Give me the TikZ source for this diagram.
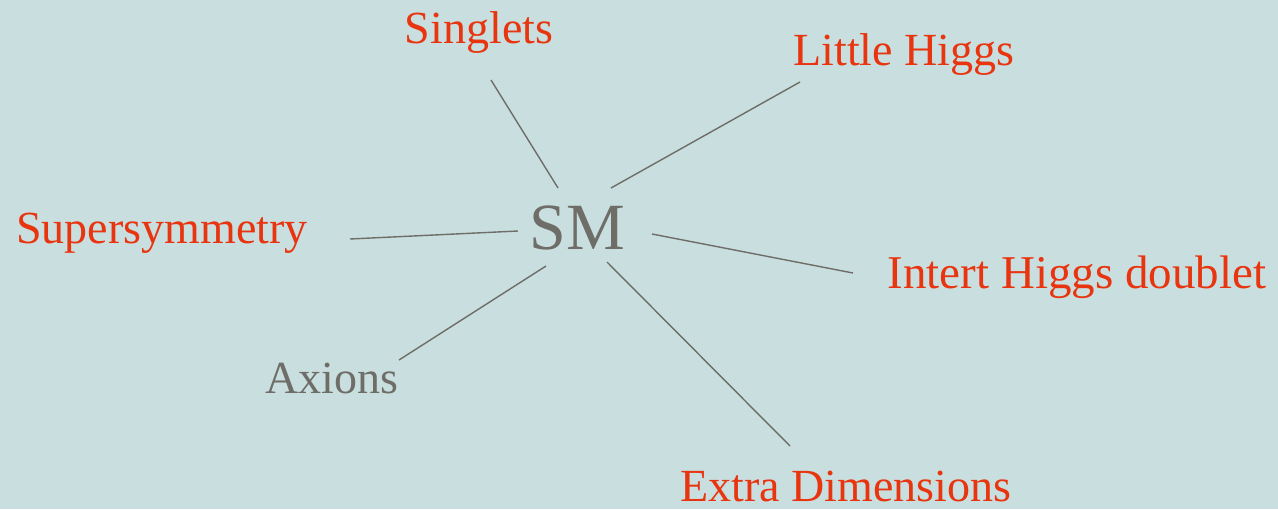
\documentclass[tikz,border=0pt]{standalone}
\usepackage{fontspec}
\setmainfont{Liberation Serif}
\definecolor{bg}{HTML}{C9DEDE}
\definecolor{lab}{HTML}{E8350F}
\definecolor{gr}{HTML}{6E6D68}
\begin{document}
\begin{tikzpicture}[x=0.5pt,y=-0.5pt,
  redlabel/.style={text=lab,font=\fontsize{23}{27}\selectfont,anchor=base,inner sep=0pt},
  graylabel/.style={text=gr,font=\fontsize{23}{27}\selectfont,anchor=base,inner sep=0pt},
  link/.style={draw=gr,line width=0.7pt}]
\fill[bg] (0,0) rectangle (1278,509);
\useasboundingbox (0,0) rectangle (1278,509);
\node[graylabel,font=\fontsize{33}{38}\selectfont] (sm) at (577,249) {SM};
\node[redlabel] (sing) at (479,43) {Singlets};
\node[redlabel] (lh) at (904,65) {Little Higgs};
\node[redlabel] (susy) at (162,243) {Supersymmetry};
\node[redlabel,font=\fontsize{23.5}{27}\selectfont] (ihd) at (1077,288) {Intert Higgs doublet};
\node[graylabel] (ax) at (332,393) {Axions};
\node[redlabel] (ed) at (846,501) {Extra Dimensions};
\coordinate (sing1) at (491,80);  \coordinate (sing2) at (558,188);
\coordinate (lh1) at (800,82);    \coordinate (lh2) at (611,188);
\coordinate (susy1) at (350,239); \coordinate (susy2) at (518,231);
\coordinate (ihd1) at (853,273);  \coordinate (ihd2) at (652,234);
\coordinate (ax1) at (399,360);   \coordinate (ax2) at (546,266);
\coordinate (ed1) at (790,446);   \coordinate (ed2) at (607,262);
\draw[link] (sing1) -- (sing2);
\draw[link] (lh1) -- (lh2);
\draw[link] (susy1) -- (susy2);
\draw[link] (ihd1) -- (ihd2);
\draw[link] (ax1) -- (ax2);
\draw[link] (ed1) -- (ed2);
\end{tikzpicture}
\end{document}
